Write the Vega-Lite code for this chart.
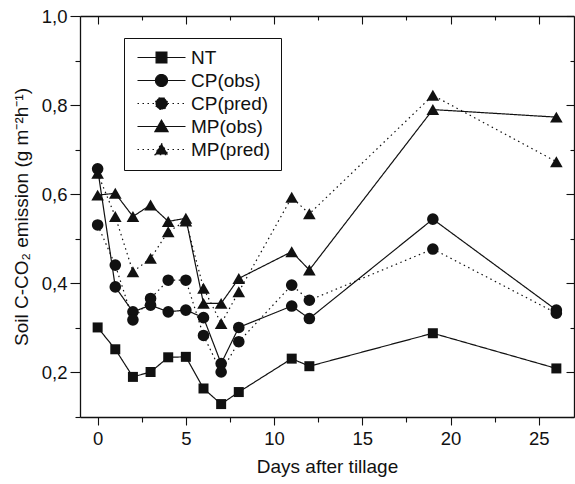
{
  "$schema": "https://vega.github.io/schema/vega-lite/v6.json",
  "width": 494,
  "height": 401,
  "autosize": {"type": "none"},
  "padding": {"left": 80, "top": 16, "right": 1, "bottom": 67},
  "background": "white",
  "config": {
    "view": {"stroke": null},
    "font": "Liberation Sans",
    "axis": {
      "grid": false,
      "domainColor": "#111",
      "domainWidth": 1.3,
      "tickColor": "#111",
      "tickWidth": 1.1,
      "labelColor": "#111",
      "labelFont": "Liberation Sans",
      "labelFontSize": 18.5,
      "titleFont": "Liberation Sans",
      "titleFontSize": 19,
      "titleFontWeight": "normal",
      "titleColor": "#111"
    }
  },
  "data": {
    "values": [
      {"day": 0, "series": "NT", "v": 0.301},
      {"day": 1, "series": "NT", "v": 0.252},
      {"day": 2, "series": "NT", "v": 0.19},
      {"day": 3, "series": "NT", "v": 0.201},
      {"day": 4, "series": "NT", "v": 0.234},
      {"day": 5, "series": "NT", "v": 0.235},
      {"day": 6, "series": "NT", "v": 0.164},
      {"day": 7, "series": "NT", "v": 0.129},
      {"day": 8, "series": "NT", "v": 0.156},
      {"day": 11, "series": "NT", "v": 0.231},
      {"day": 12, "series": "NT", "v": 0.214},
      {"day": 19, "series": "NT", "v": 0.288},
      {"day": 26, "series": "NT", "v": 0.209},
      {"day": 0, "series": "CP(obs)", "v": 0.657},
      {"day": 1, "series": "CP(obs)", "v": 0.392},
      {"day": 2, "series": "CP(obs)", "v": 0.336},
      {"day": 3, "series": "CP(obs)", "v": 0.351},
      {"day": 4, "series": "CP(obs)", "v": 0.336},
      {"day": 5, "series": "CP(obs)", "v": 0.34},
      {"day": 6, "series": "CP(obs)", "v": 0.323},
      {"day": 7, "series": "CP(obs)", "v": 0.22},
      {"day": 8, "series": "CP(obs)", "v": 0.301},
      {"day": 11, "series": "CP(obs)", "v": 0.349},
      {"day": 12, "series": "CP(obs)", "v": 0.321},
      {"day": 19, "series": "CP(obs)", "v": 0.544},
      {"day": 26, "series": "CP(obs)", "v": 0.34},
      {"day": 0, "series": "CP(pred)", "v": 0.531},
      {"day": 1, "series": "CP(pred)", "v": 0.441},
      {"day": 2, "series": "CP(pred)", "v": 0.318},
      {"day": 3, "series": "CP(pred)", "v": 0.366},
      {"day": 4, "series": "CP(pred)", "v": 0.407},
      {"day": 5, "series": "CP(pred)", "v": 0.407},
      {"day": 6, "series": "CP(pred)", "v": 0.283},
      {"day": 7, "series": "CP(pred)", "v": 0.201},
      {"day": 8, "series": "CP(pred)", "v": 0.269},
      {"day": 11, "series": "CP(pred)", "v": 0.396},
      {"day": 12, "series": "CP(pred)", "v": 0.362},
      {"day": 19, "series": "CP(pred)", "v": 0.477},
      {"day": 26, "series": "CP(pred)", "v": 0.333},
      {"day": 0, "series": "MP(obs)", "v": 0.598},
      {"day": 1, "series": "MP(obs)", "v": 0.602},
      {"day": 2, "series": "MP(obs)", "v": 0.55},
      {"day": 3, "series": "MP(obs)", "v": 0.576},
      {"day": 4, "series": "MP(obs)", "v": 0.539},
      {"day": 5, "series": "MP(obs)", "v": 0.546},
      {"day": 6, "series": "MP(obs)", "v": 0.355},
      {"day": 7, "series": "MP(obs)", "v": 0.355},
      {"day": 8, "series": "MP(obs)", "v": 0.411},
      {"day": 11, "series": "MP(obs)", "v": 0.471},
      {"day": 12, "series": "MP(obs)", "v": 0.43},
      {"day": 19, "series": "MP(obs)", "v": 0.79},
      {"day": 26, "series": "MP(obs)", "v": 0.773},
      {"day": 0, "series": "MP(pred)", "v": 0.647},
      {"day": 1, "series": "MP(pred)", "v": 0.55},
      {"day": 2, "series": "MP(pred)", "v": 0.426},
      {"day": 3, "series": "MP(pred)", "v": 0.456},
      {"day": 4, "series": "MP(pred)", "v": 0.516},
      {"day": 5, "series": "MP(pred)", "v": 0.54},
      {"day": 6, "series": "MP(pred)", "v": 0.389},
      {"day": 7, "series": "MP(pred)", "v": 0.31},
      {"day": 8, "series": "MP(pred)", "v": 0.381},
      {"day": 11, "series": "MP(pred)", "v": 0.593},
      {"day": 12, "series": "MP(pred)", "v": 0.556},
      {"day": 19, "series": "MP(pred)", "v": 0.822},
      {"day": 26, "series": "MP(pred)", "v": 0.673}
    ]
  },
  "resolve": {"axis": {"x": "independent", "y": "independent"}},
  "layer": [
    {
      "mark": {"type": "line", "color": "#111", "strokeWidth": 1.2},
      "encoding": {
        "x": {
          "field": "day", "type": "quantitative",
          "scale": {"domain": [-1, 27], "nice": false, "zero": false},
          "axis": {
            "orient": "bottom", "values": [0, 5, 10, 15, 20, 25], "format": "d",
            "tickSize": 8, "labelPadding": 4,
            "title": "Days after tillage", "titlePadding": 10
          }
        },
        "y": {
          "field": "v", "type": "quantitative",
          "scale": {"domain": [0.1, 1.0], "nice": false, "zero": false},
          "axis": {
            "orient": "left", "values": [0.2, 0.4, 0.6, 0.8, 1.0],
            "labelExpr": "replace(format(datum.value, '.1f'), '.', ',')",
            "tickSize": 10, "labelPadding": 3,
            "title": "Soil C-CO₂ emission (g m⁻²h⁻¹)", "titlePadding": 10
          }
        },
        "strokeDash": {
          "field": "series", "type": "nominal",
          "scale": {
            "domain": ["NT", "CP(obs)", "CP(pred)", "MP(obs)", "MP(pred)"],
            "range": [[1, 0], [1, 0], [1.5, 3.5], [1, 0], [1.5, 3.5]]
          },
          "legend": {
            "title": null,
            "orient": "none",
            "legendX": 44,
            "legendY": 22,
            "strokeColor": "#111",
            "fillColor": "white",
            "padding": 10,
            "labelFont": "Liberation Sans",
            "labelFontSize": 19,
            "labelColor": "#111",
            "symbolSize": 144,
            "symbolStrokeWidth": 1.2,
            "symbolStrokeColor": "#111",
            "symbolFillColor": "#111",
            "symbolOffset": 18,
            "labelOffset": 20,
            "rowPadding": 3,
            "encode": {
              "symbols": {
                "update": {
                  "shape": {"signal": "datum.value == 'NT' ? 'M-4,0H4M-0.9,-0.9H0.9V0.9H-0.9Z' : (substring(datum.value, 0, 2) == 'CP' ? 'M-4,0H4M1,0A1,1,0,1,1,-1,0A1,1,0,1,1,1,0Z' : 'M-4,0H4M0,-1.05L1.1,0.85H-1.1Z')"},
                  "fill": {"value": "#111"},
                  "stroke": {"value": "#111"},
                  "opacity": {"value": 1}
                }
              }
            }
          }
        }
      }
    },
    {
      "transform": [{"filter": "datum.series == 'NT'"}],
      "mark": {"type": "point", "shape": "square", "filled": true, "color": "#111", "size": 100, "opacity": 1},
      "encoding": {
        "x": {"field": "day", "type": "quantitative", "axis": {"orient": "top", "values": [0, 5, 10, 15, 20, 25], "labels": false, "tickSize": -8, "title": null}},
        "y": {"field": "v", "type": "quantitative", "axis": {"orient": "right", "values": [0.2, 0.4, 0.6, 0.8, 1.0], "labels": false, "tickSize": -8, "title": null}}
      }
    },
    {
      "transform": [{"filter": "datum.series == 'CP(obs)' || datum.series == 'CP(pred)'"}],
      "mark": {"type": "point", "shape": "circle", "filled": true, "color": "#111", "size": 135, "opacity": 1},
      "encoding": {
        "x": {"field": "day", "type": "quantitative", "axis": {"orient": "bottom", "values": [2.5, 7.5, 12.5, 17.5, 22.5], "labels": false, "domain": false, "tickSize": 5, "title": null}},
        "y": {"field": "v", "type": "quantitative", "axis": {"orient": "left", "values": [0.1, 0.3, 0.5, 0.7, 0.9], "labels": false, "domain": false, "tickSize": 5, "title": null}}
      }
    },
    {
      "transform": [{"filter": "datum.series == 'MP(obs)' || datum.series == 'MP(pred)'"}],
      "mark": {"type": "point", "shape": "triangle-up", "filled": true, "color": "#111", "size": 160, "opacity": 1},
      "encoding": {
        "x": {"field": "day", "type": "quantitative", "axis": {"orient": "top", "values": [2.5, 7.5, 12.5, 17.5, 22.5], "labels": false, "domain": false, "tickSize": -4, "title": null}},
        "y": {"field": "v", "type": "quantitative", "axis": {"orient": "right", "values": [0.1, 0.3, 0.5, 0.7, 0.9], "labels": false, "domain": false, "tickSize": -4, "title": null}}
      }
    }
  ]
}
